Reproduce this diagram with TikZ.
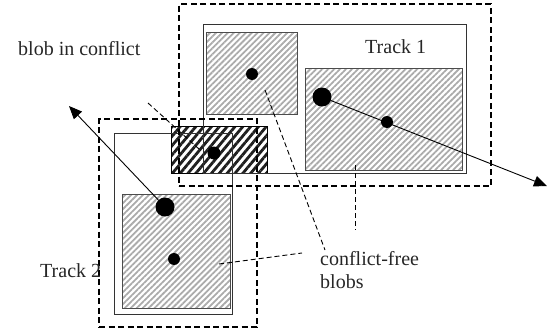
\documentclass[tikz,border=0pt]{standalone}
\usepackage{fontspec}
\setmainfont{Liberation Serif}
\usetikzlibrary{patterns.meta,arrows.meta}
\begin{document}
\begin{tikzpicture}[x=1pt,y=-1pt,
  box/.style={draw=black!80, line width=0.9pt, inner sep=0pt, anchor=north west},
  trackzone/.style={draw=black, line width=2pt, dash pattern=on 6pt off 3.5pt, inner sep=0pt, anchor=north west},
  blob/.style={draw=black!70, line width=0.9pt, inner sep=0pt, anchor=north west, fill=white,
    pattern={Lines[angle=45,distance=4.2pt,line width=1.8pt]}, pattern color=black!33},
  conflictblob/.style={draw=black, line width=0.9pt, inner sep=0pt, anchor=north west,
    pattern={Lines[angle=50,distance=6pt,line width=2.8pt]}, pattern color=black!88},
  dot/.style={circle, fill=black, inner sep=0pt, minimum size=#1},
  motion/.style={draw=black, line width=0.9pt, -{Triangle[length=13pt,width=11pt]}},
  pointer/.style={draw=black, line width=0.9pt, dash pattern=on 5pt off 3pt},
  label/.style={anchor=base west, inner sep=0pt, text=black!85, font=\fontsize{20}{23}\selectfont}]
\useasboundingbox (0,0) rectangle (547,332);

% hatched blobs
\node[blob, minimum width=91pt, minimum height=82pt] (b1a) at (206,32) {};
\node[blob, minimum width=157pt, minimum height=102pt] (b1b) at (305,68) {};
\node[blob, minimum width=108pt, minimum height=114pt] (b2) at (122,194) {};
\node[conflictblob, minimum width=96pt, minimum height=47pt] (bc) at (170,125) {};

% track extents
\node[box, minimum width=263pt, minimum height=149pt] (t1) at (203,24) {};
\node[box, minimum width=118pt, minimum height=181pt] (t2) at (114,133) {};
\node[trackzone, minimum width=312pt, minimum height=182pt] (z1) at (178,3) {};
\node[trackzone, minimum width=158pt, minimum height=208pt] (z2) at (98,118) {};

% blob centroids
\node[dot=12pt] (d1a) at (252,74) {};
\node[dot=19pt] (d1big) at (322,97) {};
\node[dot=12pt] (d1s) at (387,122) {};
\node[dot=13pt] (dc) at (214,153) {};
\node[dot=19pt] (d2big) at (165,207) {};
\node[dot=12pt] (d2s) at (174,259) {};

% motion directions
\coordinate (tip1) at (547,186);
\coordinate (tip2) at (69,106);
\draw[motion] (d1big) -- (tip1);
\draw[motion] (d2big) -- (tip2);

% labels
\node[label] (lconf) at (18,55) {blob in conflict};
\node[label] (ltr1) at (365,53) {Track 1};
\node[label] (ltr2) at (40,277) {Track 2};
\node[label] (lfree) at (320,265) {conflict-free};
\node[label] (lfree2) at (320,288) {blobs};

% pointers
\coordinate (pc1) at (148,103);
\coordinate (pc2) at (199,149);
\draw[pointer] (pc1) -- (pc2);
\coordinate (pa1) at (265,90);
\coordinate (pa2) at (325,250);
\draw[pointer] (pa1) -- (pa2);
\coordinate (pb1) at (355,165);
\coordinate (pb2) at (355,230);
\draw[pointer] (pb1) -- (pb2);
\coordinate (pd1) at (219,264);
\coordinate (pd2) at (302,253);
\draw[pointer] (pd1) -- (pd2);
\end{tikzpicture}
\end{document}
